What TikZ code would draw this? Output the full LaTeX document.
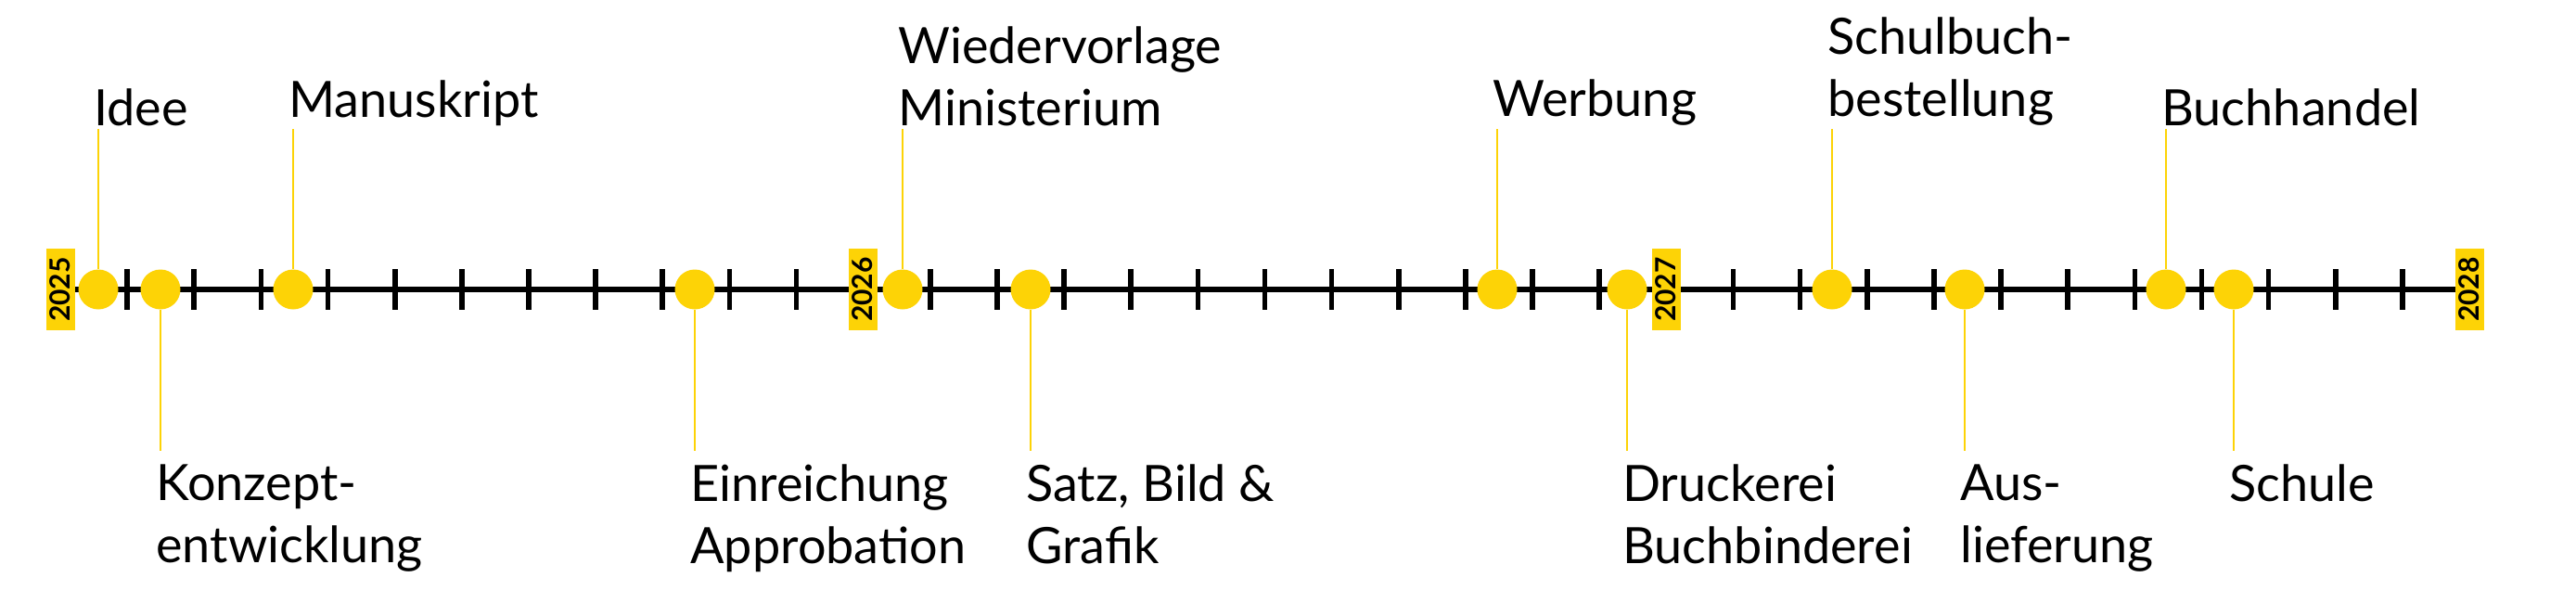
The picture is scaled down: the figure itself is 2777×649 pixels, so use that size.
\documentclass[tikz,border=0pt]{standalone}
\usepackage{fontspec}
\setmainfont{Lato}
\definecolor{ty}{HTML}{FDD306}
\begin{document}
\begin{tikzpicture}[x=0.5pt,y=-0.5pt,
  dot/.style={circle,fill=ty,minimum size=21.5pt,inner sep=0pt},
  lead/.style={ty,line width=1pt},
  lab/.style={inner sep=0pt,anchor=base west,align=left,font=\fontsize{27}{33.5}\selectfont},
  yr/.style={fill=ty,rotate=90,inner sep=0pt,minimum width=44pt,minimum height=15.5pt,font=\bfseries\fontsize{15}{15}\selectfont},
  tick/.style={line width=2.8pt}]
\useasboundingbox (0,0) rectangle (2777,649);
\coordinate (a0) at (65,312);
\coordinate (a1) at (2662,312);
\draw[line width=2.6pt] (a0) -- (a1);
\foreach \m in {1,...,35}{
  \pgfmathtruncatemacro{\r}{mod(\m,12)}
  \ifnum\r>0
    \draw[tick] ({65+72.14*\m},290) -- ({65+72.14*\m},334);
  \fi}
\node[yr] (y25) at (65,312) {2025};
\node[yr] (y26) at (930,312) {2026};
\node[yr] (y27) at (1796,312) {2027};
\node[yr] (y28) at (2662,312) {2028};
% top labels
\foreach \n/\x/\t in {idee/106/Idee,manu/316/Manuskript,wied/973/{Wiedervorlage\\Ministerium},werb/1614/Werbung,schb/1975/{Schulbuch-\\bestellung},buch/2335/Buchhandel}{
  \node[dot] (\n) at (\x,312) {};
  \coordinate (\n t) at (\x,139);
  \draw[lead] (\n.north) -- (\n t);
  \node[lab,anchor=south west] (\n l) at (\x-5,136) {\t};
}
% bottom labels
\foreach \n/\x/\t in {konz/173/{Konzept-\\entwicklung},einr/749/{Einreichung\\Approbation},satz/1111/{Satz, Bild \&\\Grafik},druc/1754/{Druckerei\\Buchbinderei},ausl/2118/{Aus-\\lieferung},schu/2408/Schule}{
  \node[dot] (\n) at (\x,312) {};
  \coordinate (\n b) at (\x,486);
  \draw[lead] (\n.south) -- (\n b);
  \node[lab,anchor=north west] (\n l) at (\x-5,500) {\t};
}
\end{tikzpicture}
\end{document}
